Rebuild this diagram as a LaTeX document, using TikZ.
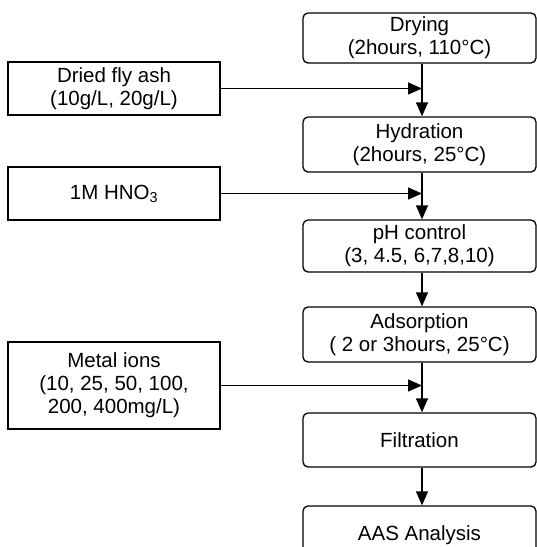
\documentclass[tikz,border=0pt]{standalone}
\usepackage{fontspec}
\setmainfont{Liberation Sans}
\usetikzlibrary{arrows.meta}
\tikzset{
  box/.style={draw, line width=1.3pt, align=center, inner sep=2pt,
    font=\fontsize{20.5}{23}\selectfont},
  stepbox/.style={box, rounded corners=5pt, minimum width=233pt},
  inbox/.style={box, minimum width=212pt},
  flow/.style={line width=1.3pt, -{Triangle[length=14pt,width=12pt]}}
}
\begin{document}
\begin{tikzpicture}[x=1pt,y=-1pt]
\clip (0,0) rectangle (537,547);
\fill[white] (0,0) rectangle (537,547);
\coordinate (ax) at (422,0);
\node[stepbox, minimum height=50pt] (dry) at (419.5,38) {Drying\\(2hours, 110°C)};
\node[stepbox, minimum height=55pt] (hyd) at (419.5,144.5) {Hydration\\(2hours, 25°C)};
\node[stepbox, minimum height=52pt] (ph) at (419.5,246) {pH control\\(3, 4.5, 6,7,8,10)};
\node[stepbox, minimum height=55pt] (ads) at (419.5,334.5) {Adsorption\\( 2 or 3hours, 25°C)};
\node[stepbox, minimum height=54pt] (fil) at (419.5,440) {Filtration};
\node[stepbox, minimum height=58pt] (aas) at (419.5,535) {AAS Analysis};
\node[inbox, minimum height=53pt] (ash) at (114,88.5) {Dried fly ash\\(10g/L, 20g/L)};
\node[inbox, minimum height=53pt] (hno) at (114,193.5) {1M HNO\textsubscript{3}};
\node[inbox, minimum height=87pt] (ion) at (114,385.5) {Metal ions\\(10, 25, 50, 100,\\200, 400mg/L)};
\draw[flow] (dry.south -| ax) -- (hyd.north -| ax);
\draw[flow] (hyd.south -| ax) -- (ph.north -| ax);
\draw[flow] (ph.south -| ax) -- (ads.north -| ax);
\draw[flow] (ads.south -| ax) -- (fil.north -| ax);
\draw[flow] (fil.south -| ax) -- (aas.north -| ax);
\draw[flow] (ash.east) -- (ash.east -| ax);
\draw[flow] (hno.east) -- (hno.east -| ax);
\draw[flow] (ion.east) -- (ion.east -| ax);
\end{tikzpicture}
\end{document}
